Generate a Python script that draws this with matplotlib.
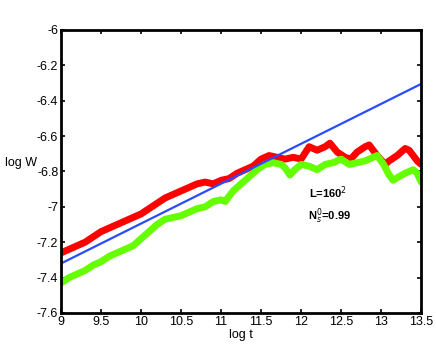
import numpy as np
import matplotlib
matplotlib.use('Agg')
import matplotlib.pyplot as plt

# --------------------------------------- Data -------------------------------------
red_t = [9.0, 9.1, 9.2, 9.3, 9.4, 9.5, 9.6, 9.7, 9.8, 9.9, 10.0, 10.1, 10.2, 10.3, 10.4,
         10.5, 10.6, 10.7, 10.8, 10.9, 11.0, 11.1, 11.2, 11.3, 11.4, 11.5, 11.6, 11.7, 11.8,
         11.9, 12.0, 12.1, 12.2, 12.3, 12.36, 12.45, 12.55, 12.62, 12.7, 12.8, 12.85, 12.9,
         12.95, 13.05, 13.1, 13.2, 13.3, 13.35, 13.4, 13.45, 13.5]
red_w = [-7.26, -7.24, -7.22, -7.20, -7.17, -7.14, -7.12, -7.10, -7.08, -7.06, -7.04, -7.01,
         -6.98, -6.95, -6.93, -6.91, -6.89, -6.87, -6.86, -6.87, -6.85, -6.84, -6.81, -6.79,
         -6.77, -6.73, -6.71, -6.72, -6.73, -6.72, -6.73, -6.66, -6.68, -6.66, -6.64, -6.69,
         -6.72, -6.73, -6.69, -6.66, -6.65, -6.68, -6.71, -6.76, -6.74, -6.71, -6.67, -6.68,
         -6.71, -6.74, -6.76]

green_t = [9.0, 9.1, 9.2, 9.3, 9.4, 9.5, 9.6, 9.7, 9.8, 9.9, 10.0, 10.1, 10.2, 10.3, 10.4,
           10.5, 10.6, 10.7, 10.8, 10.9, 11.0, 11.05, 11.15, 11.25, 11.35, 11.45, 11.55, 11.65,
           11.75, 11.8, 11.86, 11.92, 12.0, 12.1, 12.2, 12.3, 12.4, 12.5, 12.6, 12.7, 12.8,
           12.9, 12.95, 13.03, 13.1, 13.15, 13.22, 13.3, 13.4, 13.45, 13.5]
green_w = [-7.43, -7.40, -7.38, -7.36, -7.33, -7.31, -7.28, -7.26, -7.24, -7.22, -7.18, -7.14,
           -7.10, -7.07, -7.06, -7.05, -7.03, -7.01, -7.00, -6.97, -6.96, -6.97, -6.91, -6.87,
           -6.83, -6.79, -6.76, -6.75, -6.76, -6.78, -6.82, -6.79, -6.76, -6.77, -6.79, -6.76,
           -6.75, -6.73, -6.76, -6.75, -6.74, -6.72, -6.71, -6.76, -6.82, -6.85, -6.83, -6.81,
           -6.79, -6.81, -6.86]

blue_t = [9.0, 13.5]
blue_w = [-7.32, -6.305]

xticks = [9, 9.5, 10, 10.5, 11, 11.5, 12, 12.5, 13, 13.5]
yticks = [-7.6, -7.4, -7.2, -7, -6.8, -6.6, -6.4, -6.2, -6]

# --------------------------------------- Plot -------------------------------------
plt.rcParams['font.family'] = ['Liberation Sans', 'DejaVu Sans']
plt.rcParams['axes.unicode_minus'] = False

fig = plt.figure(figsize=(4.36, 3.46), dpi=100)
ax = fig.add_axes([0.140, 0.0954, 0.826, 0.818])

ax.plot(red_t, red_w, color='#ff0000', lw=5, solid_capstyle='round', solid_joinstyle='round')
ax.plot(green_t, green_w, color='#66ff00', lw=5, solid_capstyle='round', solid_joinstyle='round')
ax.plot(blue_t, blue_w, color='#2a4bff', lw=1.6)

ax.set_xlim(9, 13.5)
ax.set_ylim(-7.6, -6)
ax.set_xticks(xticks)
ax.set_yticks(yticks)
ax.set_xticklabels(['%g' % v for v in xticks])
ax.set_yticklabels(['%g' % v for v in yticks])
ax.tick_params(direction='in', top=True, right=True, length=3, width=1.2, labelsize=9, pad=2)
for s in ax.spines.values():
    s.set_linewidth(2)

ax.set_xlabel('log t', fontsize=9, labelpad=1)
ax.set_ylabel('log W', fontsize=9, rotation=0, ha='center', va='center')
ax.yaxis.set_label_coords(-0.11, 0.53)

ax.text(12.34, -6.92, r'L=160$^2$', fontsize=8, fontweight='bold', ha='center', va='center')
ax.text(12.36, -7.05, r'N$_s^0$=0.99', fontsize=8, fontweight='bold', ha='center', va='center')

fig.savefig('out.png', dpi=100)
